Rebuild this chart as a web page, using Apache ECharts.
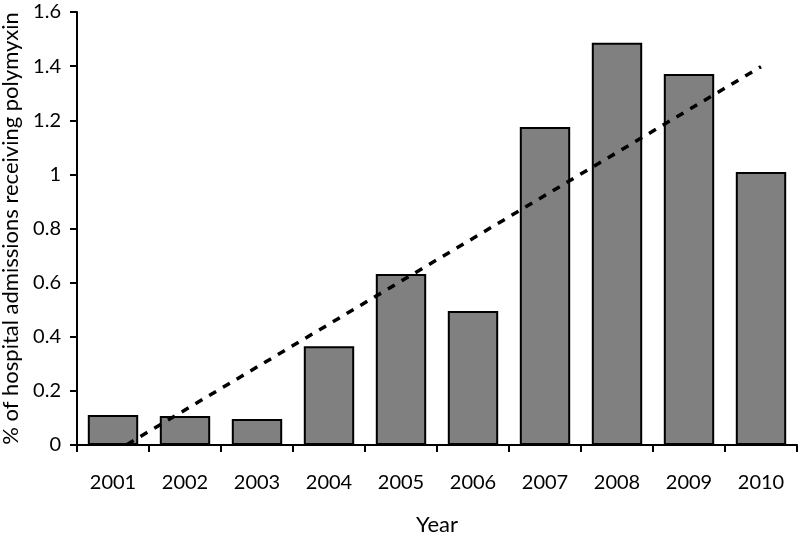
<!DOCTYPE html>
<html>
<head>
<meta charset="utf-8">
<script src="https://cdn.jsdelivr.net/npm/echarts@6/dist/echarts.min.js"></script>
<style>
html,body{margin:0;padding:0;background:#fff;}
#chart{width:801px;height:539px;}
</style>
</head>
<body>
<div id="chart"></div>
<script>
var years = ['2001','2002','2003','2004','2005','2006','2007','2008','2009','2010'];
var percentAdmissions = [0.111, 0.107, 0.096, 0.365, 0.632, 0.495, 1.175, 1.486, 1.371, 1.009];
// linear trendline endpoints (at 2001 and 2010)
var trendStart = -0.029;
var trendEnd = 1.398;
var yTicks = [0, 0.2, 0.4, 0.6, 0.8, 1, 1.2, 1.4, 1.6];

var trendData = [[years[0], trendStart], [years[years.length - 1], trendEnd]];

var font = 'Lato, "Liberation Sans", sans-serif';
var chart = echarts.init(document.getElementById('chart'), null, {renderer: 'canvas'});
chart.setOption({
  animation: false,
  grid: {left: 77, right: 4, top: 12, bottom: 94, containLabel: false, outerBoundsMode: 'none'},
  xAxis: {
    type: 'category',
    data: years,
    name: 'Year',
    nameLocation: 'middle',
    nameGap: 69,
    nameTextStyle: {color: '#000', fontSize: 22, fontFamily: font},
    axisLine: {lineStyle: {color: '#000', width: 2}},
    axisTick: {show: true, length: 7, lineStyle: {color: '#000', width: 2}, alignWithLabel: false},
    axisLabel: {color: '#000', fontSize: 20, fontFamily: font, margin: 28},
    splitLine: {show: false}
  },
  yAxis: {
    type: 'value',
    min: yTicks[0],
    max: yTicks[yTicks.length - 1],
    interval: 0.2,
    name: '% of hospital admissions receiving polymyxin',
    nameLocation: 'middle',
    nameGap: 54,
    nameRotate: 90,
    nameTextStyle: {color: '#000', fontSize: 22, fontFamily: font},
    axisLine: {show: true, lineStyle: {color: '#000', width: 2}},
    axisTick: {show: true, length: 7, lineStyle: {color: '#000', width: 2}},
    axisLabel: {color: '#000', fontSize: 20, fontFamily: font, margin: 16},
    splitLine: {show: false}
  },
  series: [
    {
      type: 'bar',
      data: percentAdmissions,
      barCategoryGap: '30%',
      itemStyle: {color: '#808080', borderColor: '#000', borderWidth: 2}
    },
    {
      type: 'line',
      data: trendData,
      symbol: 'none',
      clip: true,
      lineStyle: {color: '#000', width: 3.5, type: [8, 8]},
      z: 5
    }
  ]
});
</script>
</body>
</html>
